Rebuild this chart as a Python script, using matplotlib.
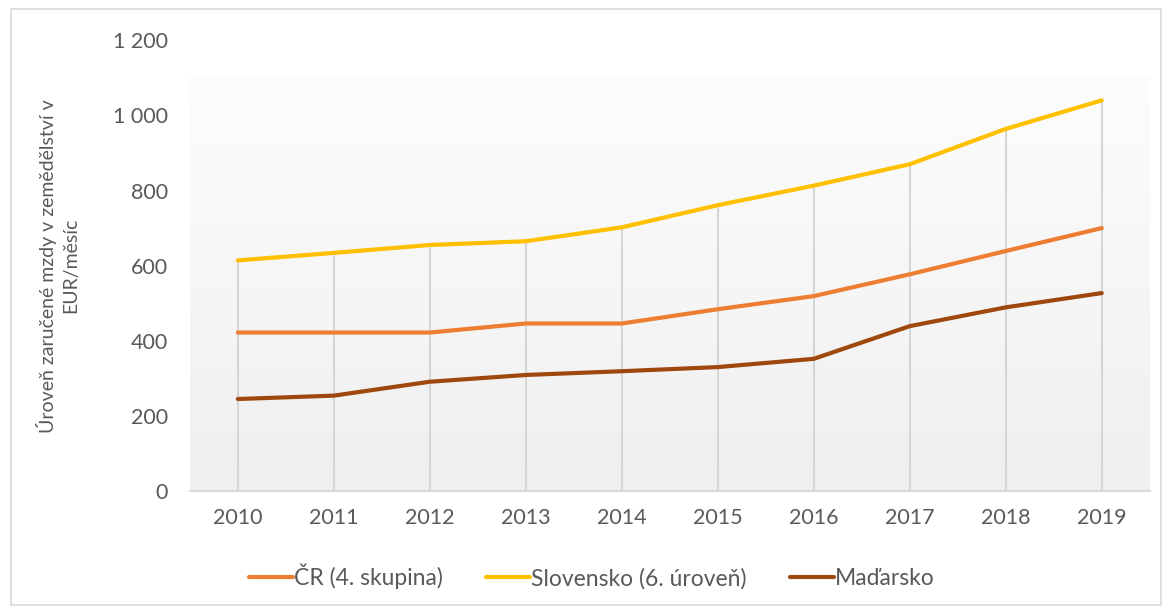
import numpy as np
import matplotlib.pyplot as plt
from matplotlib.patches import Rectangle

years = [2010, 2011, 2012, 2013, 2014, 2015, 2016, 2017, 2018, 2019]
cr = [422, 422, 422, 446, 446, 484, 519, 577, 639, 700]
slovensko = [614, 634, 655, 665, 702, 761, 813, 870, 964, 1040]
madarsko = [245, 254, 291, 309, 319, 330, 352, 439, 489, 527]

labels = ['ČR (4. skupina)', 'Slovensko (6. úroveň)', 'Maďarsko']
colors = ['#ED7D31', '#FFC000', '#9E480E']
ylabel = 'Úroveň zaručené mzdy v zemědělství v\nEUR/měsíc'

plt.rcParams['font.family'] = ['Lato', 'DejaVu Sans']
text_col = '#595959'

fig = plt.figure(figsize=(11.72, 6.10), dpi=100)
fig.patches.append(Rectangle((0.009, 0.008), 0.982, 0.978, transform=fig.transFigure,
                             fill=False, edgecolor='#d9d9d9', linewidth=1.2))
ax = fig.add_axes([0.162, 0.195, 0.819, 0.739])

# plot area gradient (white at top -> light gray at bottom)
grad = np.linspace(1, 0, 256).reshape(-1, 1)
ax.imshow(grad, cmap=plt.matplotlib.colors.LinearSegmentedColormap.from_list(
    'g', ['#efefef', '#fdfdfd']), aspect='auto',
    extent=(2009.5, 2019.5, 0, 1100), zorder=0, vmin=0, vmax=1)

# drop lines from top series to axis
ax.vlines(years, 0, slovensko, color='#d6d6d6', linewidth=1.5, zorder=1)

for vals, lab, c in zip([cr, slovensko, madarsko], labels, colors):
    ax.plot(years, vals, color=c, linewidth=3, label=lab, zorder=3,
            solid_capstyle='round')

ax.set_xlim(2009.5, 2019.5)
ax.set_ylim(0, 1200)
ax.set_xticks(years)
ax.set_yticks(range(0, 1201, 200))
ax.set_yticklabels([f'{v:,}'.replace(',', ' ') for v in range(0, 1201, 200)])
ax.tick_params(length=0, labelsize=15.5, colors=text_col)
ax.tick_params(axis='y', pad=16)
ax.tick_params(axis='x', pad=12)
for s in ['top', 'right', 'left']:
    ax.spines[s].set_visible(False)
ax.spines['bottom'].set_color('#d9d9d9')
ax.spines['bottom'].set_linewidth(1.5)

ax.set_ylabel(ylabel, fontsize=14, color=text_col, labelpad=24, linespacing=1.4)

fig.legend(loc='center', bbox_to_anchor=(0.505, 0.055), ncol=3, frameon=False,
           fontsize=16.5, labelcolor=text_col, handlelength=1.9, handletextpad=0.05,
           columnspacing=1.9)

fig.savefig('out.png', dpi=100)
